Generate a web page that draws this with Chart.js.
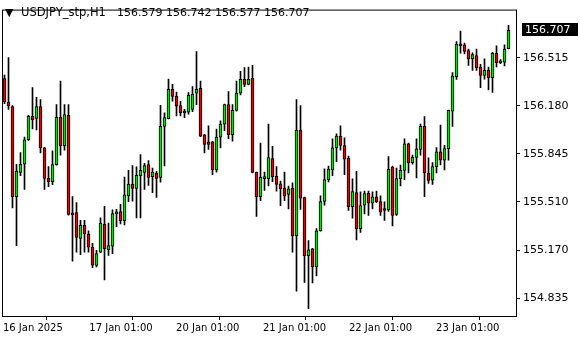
<!DOCTYPE html>
<html>
<head>
<meta charset="utf-8">
<title>USDJPY_stp,H1</title>
<script src="https://cdn.jsdelivr.net/npm/chart.js@4.4.1/dist/chart.umd.min.js"></script>
<style>
    html, body { margin: 0; padding: 0; background: #fff; }
    #chart { display: block; }
</style>
</head>
<body>
<canvas id="chart" width="580" height="340"></canvas>
<script>
// symbol and timeframe shown in the top-left corner
const symbolName = 'USDJPY_stp,H1';

// hourly candles, oldest first
const opens = [
    156.371, 156.207, 156.175, 155.545, 155.715, 155.772, 155.943, 156.107, 156.093, 156.175,
    155.886, 155.674, 155.651, 155.770, 156.100, 155.900, 156.114, 155.428, 155.435, 155.255,
    155.346, 155.285, 155.193, 155.066, 155.159, 155.353, 155.175, 155.200, 155.426, 155.442,
    155.378, 155.551, 155.633, 155.603, 155.692, 155.715, 155.770, 155.685, 155.711, 155.681,
    156.037, 156.091, 156.296, 156.246, 156.182, 156.130, 156.136, 156.155, 156.269, 156.303,
    155.977, 155.929, 155.929, 155.733, 155.961, 156.052, 156.189, 155.979, 156.148, 156.269,
    156.365, 156.330, 156.372, 155.715, 155.545, 155.672, 155.672, 155.811, 155.688, 155.636,
    155.606, 155.562, 155.606, 155.271, 156.011, 155.540, 155.134, 155.182, 155.056, 155.307,
    155.512, 155.665, 155.733, 155.886, 155.968, 155.902, 155.813, 155.476, 155.574, 155.323,
    155.487, 155.569, 155.501, 155.545, 155.512, 155.460, 155.453, 155.752, 155.422, 155.672,
    155.729, 155.914, 155.784, 155.820, 155.875, 156.037, 155.711, 155.661, 155.756, 155.859,
    155.801, 155.881, 156.143, 156.383, 156.611, 156.606, 156.565, 156.508, 156.531, 156.451,
    156.392, 156.428, 156.376, 156.546, 156.481, 156.485, 156.579
];
const highs = [
    156.394, 156.517, 156.182, 155.772, 155.854, 155.961, 156.114, 156.307, 156.239, 156.223,
    155.890, 155.756, 155.866, 156.189, 156.353, 156.189, 156.189, 155.547, 155.504, 155.380,
    155.380, 155.307, 155.220, 155.171, 155.398, 155.478, 155.362, 155.453, 155.458, 155.492,
    155.683, 155.729, 155.763, 155.754, 155.840, 155.779, 155.797, 155.745, 155.722, 156.184,
    156.132, 156.367, 156.330, 156.276, 156.212, 156.155, 156.273, 156.314, 156.558, 156.353,
    155.980, 156.041, 155.932, 156.018, 156.075, 156.192, 156.280, 156.189, 156.353, 156.421,
    156.447, 156.451, 156.462, 155.718, 155.920, 155.717, 156.052, 155.897, 155.756, 155.654,
    155.717, 155.620, 155.642, 156.223, 156.182, 155.543, 155.239, 155.185, 155.323, 155.551,
    155.740, 155.760, 155.950, 155.984, 156.041, 155.957, 155.829, 155.670, 155.722, 155.579,
    155.585, 155.585, 155.579, 155.585, 155.551, 155.510, 155.825, 155.760, 155.745, 155.767,
    155.950, 155.920, 155.836, 155.950, 156.052, 156.105, 155.817, 155.784, 155.888, 156.045,
    155.904, 156.150, 156.412, 156.629, 156.702, 156.618, 156.577, 156.551, 156.577, 156.469,
    156.508, 156.451, 156.553, 156.599, 156.503, 156.606, 156.742
];
const lows = [
    156.196, 156.155, 155.467, 155.203, 155.692, 155.596, 155.938, 156.018, 156.011, 155.852,
    155.596, 155.615, 155.629, 155.765, 155.836, 155.870, 155.417, 155.095, 155.159, 155.141,
    155.159, 155.159, 155.050, 155.056, 155.155, 154.965, 155.136, 155.148, 155.337, 155.355,
    155.348, 155.510, 155.514, 155.398, 155.398, 155.596, 155.624, 155.574, 155.540, 155.647,
    155.760, 156.088, 156.212, 156.109, 156.109, 156.098, 156.121, 156.139, 156.189, 155.965,
    155.852, 155.875, 155.699, 155.717, 155.886, 156.007, 155.950, 155.934, 156.143, 156.257,
    156.314, 156.326, 155.712, 155.408, 155.517, 155.590, 155.620, 155.651, 155.585, 155.483,
    155.517, 155.460, 155.159, 154.886, 155.456, 154.947, 154.763, 154.943, 154.993, 155.305,
    155.487, 155.649, 155.692, 155.790, 155.870, 155.699, 155.449, 155.396, 155.244, 155.296,
    155.426, 155.415, 155.460, 155.504, 155.415, 155.380, 155.442, 155.341, 155.415, 155.620,
    155.665, 155.711, 155.772, 155.676, 155.836, 155.545, 155.639, 155.631, 155.711, 155.767,
    155.733, 155.801, 156.037, 156.365, 156.547, 156.542, 156.462, 156.428, 156.428, 156.307,
    156.367, 156.292, 156.273, 156.451, 156.474, 156.458, 156.577
];
const closes = [
    156.207, 156.180, 155.545, 155.724, 155.772, 155.943, 156.107, 156.084, 156.175, 155.886,
    155.674, 155.651, 155.770, 156.100, 155.900, 156.119, 155.421, 155.419, 155.261, 155.346,
    155.285, 155.193, 155.068, 155.148, 155.362, 155.182, 155.205, 155.428, 155.435, 155.378,
    155.558, 155.633, 155.603, 155.695, 155.729, 155.763, 155.681, 155.715, 155.674, 156.037,
    156.098, 156.296, 156.246, 156.177, 156.132, 156.139, 156.253, 156.262, 156.296, 155.968,
    155.911, 155.911, 155.733, 155.961, 156.052, 156.189, 155.979, 156.148, 156.269, 156.365,
    156.330, 156.367, 155.715, 155.545, 155.681, 155.681, 155.818, 155.685, 155.631, 155.601,
    155.549, 155.601, 155.271, 156.011, 155.535, 155.134, 155.175, 155.056, 155.307, 155.512,
    155.665, 155.738, 155.886, 155.968, 155.904, 155.808, 155.476, 155.581, 155.323, 155.483,
    155.567, 155.501, 155.545, 155.510, 155.437, 155.449, 155.736, 155.415, 155.672, 155.729,
    155.914, 155.784, 155.820, 155.879, 156.037, 155.711, 155.659, 155.756, 155.859, 155.801,
    155.881, 156.148, 156.387, 156.611, 156.599, 156.560, 156.508, 156.538, 156.447, 156.392,
    156.428, 156.376, 156.546, 156.481, 156.490, 156.577, 156.707
];

// price scale labels on the right
const priceTicks = [156.515, 156.180, 155.845, 155.510, 155.170, 154.835];
const priceMin = 154.7125;
const priceMax = 156.852;

// time labels and the bar (index) where each one sits
const timeLabels = ['16 Jan 2025', '17 Jan 01:00', '20 Jan 01:00', '21 Jan 01:00', '22 Jan 01:00', '23 Jan 01:00'];
const timeLabelBars = [-0.4, 21.2, 42.9, 64.6, 86.1, 107.9];

const bullColor = '#00e600';
const bearColor = '#e60000';
const fontFamily = '"DejaVu Sans", Verdana, sans-serif';

const bodies = opens.map((o, i) => ({ x: i, y: [o, closes[i]] }));
const wicks = lows.map((l, i) => ({ x: i, y: [l, highs[i]] }));
const bodyColors = opens.map((o, i) => closes[i] >= o ? bullColor : bearColor);

// frame round the plot, header text and last price box
const mtDecor = {
    id: 'mtDecor',
    afterDatasetsDraw(chart) {
        const { ctx, chartArea } = chart;
        ctx.save();
        ctx.strokeStyle = '#000';
        ctx.lineWidth = 1;
        ctx.strokeRect(chartArea.left + 0.5, chartArea.top + 0.5,
            chartArea.right - chartArea.left, chartArea.bottom - chartArea.top);
        ctx.restore();
    },
    afterDraw(chart) {
        const { ctx } = chart;
        const last = opens.length - 1;
        ctx.save();
        ctx.fillStyle = '#000';
        ctx.textBaseline = 'alphabetic';
        ctx.font = '11px ' + fontFamily;
        ctx.fillText('▼', 5, 16);
        ctx.font = '11.5px ' + fontFamily;
        ctx.fillText(symbolName, 21, 16);
        const ohlc = [opens[last], highs[last], lows[last], closes[last]].map(v => v.toFixed(3)).join(' ');
        ctx.font = '11px ' + fontFamily;
        ctx.fillText(ohlc, 117, 16);

        // last price on the price scale
        const y = chart.scales.y.getPixelForValue(closes[last]);
        ctx.fillRect(522, Math.round(y) - 7, 56, 13);
        ctx.fillStyle = '#fff';
        ctx.textBaseline = 'middle';
        ctx.fillText(closes[last].toFixed(3), 525, Math.round(y));
        ctx.restore();
    }
};

new Chart(document.getElementById('chart'), {
    type: 'bar',
    data: {
        datasets: [{
            label: 'body',
            data: bodies,
            backgroundColor: bodyColors,
            borderColor: '#000',
            borderWidth: 1,
            borderSkipped: false,
            barThickness: 3,
            minBarLength: 2,
            grouped: false,
            order: 0
        }, {
            label: 'wick',
            data: wicks,
            backgroundColor: '#000',
            borderWidth: 0,
            barThickness: 1,
            grouped: false,
            order: 1
        }]
    },
    options: {
        responsive: false,
        animation: false,
        layout: { padding: { left: 2, top: 3, right: 0, bottom: 0 } },
        plugins: {
            legend: { display: false },
            tooltip: { enabled: false },
            title: { display: false }
        },
        scales: {
            x: {
                type: 'linear',
                min: -0.625,
                max: 127.875,
                offset: false,
                afterBuildTicks: scale => {
                    scale.ticks = timeLabelBars.map(v => ({ value: v }));
                },
                afterFit: scale => { scale.height = 24; },
                border: { display: false },
                grid: { drawOnChartArea: false, drawTicks: true, tickLength: 4, color: '#000' },
                ticks: {
                    autoSkip: false,
                    maxRotation: 0,
                    align: 'start',
                    padding: 2,
                    color: '#000',
                    font: { family: fontFamily, size: 10 },
                    callback: (value, index) => timeLabels[index]
                }
            },
            y: {
                position: 'right',
                min: priceMin,
                max: priceMax,
                afterBuildTicks: scale => {
                    scale.ticks = priceTicks.map(v => ({ value: v }));
                },
                afterFit: scale => { scale.width = 64; },
                border: { display: false },
                grid: { drawOnChartArea: false, drawTicks: true, tickLength: 4, color: '#000' },
                ticks: {
                    padding: 3,
                    color: '#000',
                    font: { family: fontFamily, size: 11 },
                    callback: value => value.toFixed(3)
                }
            }
        }
    },
    plugins: [mtDecor]
});
</script>
</body>
</html>
